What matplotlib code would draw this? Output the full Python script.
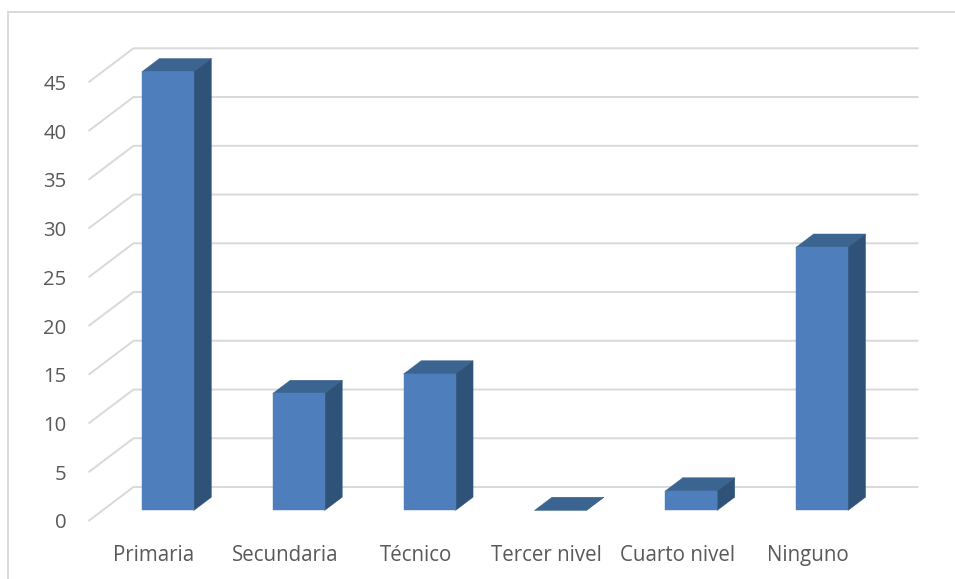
import matplotlib
matplotlib.use("Agg")
import matplotlib.pyplot as plt
from matplotlib.lines import Line2D

categories = ["Primaria", "Secundaria", "Técnico", "Tercer nivel", "Cuarto nivel", "Ninguno"]
values = [45, 12, 14, 0, 2, 27]
y_ticks = [0, 5, 10, 15, 20, 25, 30, 35, 40, 45]

W, H = 955, 579
FRONT_COLOR = "#4e7fbc"
TOP_COLOR = "#3c6491"
SIDE_COLOR = "#2f5278"
GRID_COLOR = "#d9d9d9"
TEXT_COLOR = "#595959"

plt.rcParams["font.family"] = ["Open Sans", "DejaVu Sans"]

fig = plt.figure(figsize=(W / 100, H / 100), dpi=100, facecolor="white")

# Front plane of the oblique 3D box
left, right, top, bottom = 88.5, 873.5, 82.3, 521
ax = fig.add_axes([left / W, 1 - bottom / H, (right - left) / W, (bottom - top) / H])
ax.set_xlim(-0.5, 5.5)
ax.set_ylim(0, 45)
ax.patch.set_visible(False)
for spine in ax.spines.values():
    spine.set_visible(False)

# Full box depth expressed in data units: 45 px across and 34 px up
DEPTH_X = 45 / ((right - left) / 6)
DEPTH_Y = 34 / ((bottom - top) / 45)


def project(x, v, depth):
    return x + depth * DEPTH_X, v + depth * DEPTH_Y


# Floor and wall gridlines
for v in y_ticks:
    bx, by = project(5.5, v, 1)
    mx, my = project(-0.5, v, 1)
    ax.plot([-0.5, mx, bx], [v, my, by], color=GRID_COLOR, lw=1.4,
            clip_on=False, zorder=1, solid_joinstyle="miter", solid_capstyle="butt")

# Bars sit between these two depths
D_FRONT, D_BACK = 0.31, 0.70
BAR_W = 0.397

for i, v in enumerate(values):
    x0, x1 = i - BAR_W / 2, i + BAR_W / 2
    corners = lambda d: (project(x0, 0, d), project(x1, 0, d), project(x1, v, d), project(x0, v, d))
    f = corners(D_FRONT)
    b = corners(D_BACK)
    kw = dict(clip_on=False, zorder=3, linewidth=0.3)
    # top and side faces behind the front face
    ax.fill(*zip(f[3], f[2], b[2], b[3]), facecolor=TOP_COLOR, edgecolor=TOP_COLOR, **kw)
    ax.fill(*zip(f[1], b[1], b[2], f[2]), facecolor=SIDE_COLOR, edgecolor=SIDE_COLOR, **kw)
    if v > 0:
        ax.fill(*zip(*f), facecolor=FRONT_COLOR, edgecolor=FRONT_COLOR, **kw)

ax.set_xticks(range(len(categories)))
ax.set_xticklabels(categories)
ax.set_yticks(y_ticks)
ax.tick_params(axis="both", length=0, labelcolor=TEXT_COLOR)
ax.tick_params(axis="x", pad=17, labelsize=14.8)
ax.tick_params(axis="y", pad=16, labelsize=14.6)
for label in ax.get_yticklabels():
    label.set_verticalalignment("center_baseline")

# Chart frame: only its top and left edges fall inside the canvas
fig.add_artist(Line2D([8 / W, 8 / W, 1], [0, 1 - 12 / H, 1 - 12 / H],
                      transform=fig.transFigure, color=GRID_COLOR, lw=1.4,
                      solid_joinstyle="miter"))

fig.savefig("out.png", dpi=100, facecolor="white")
